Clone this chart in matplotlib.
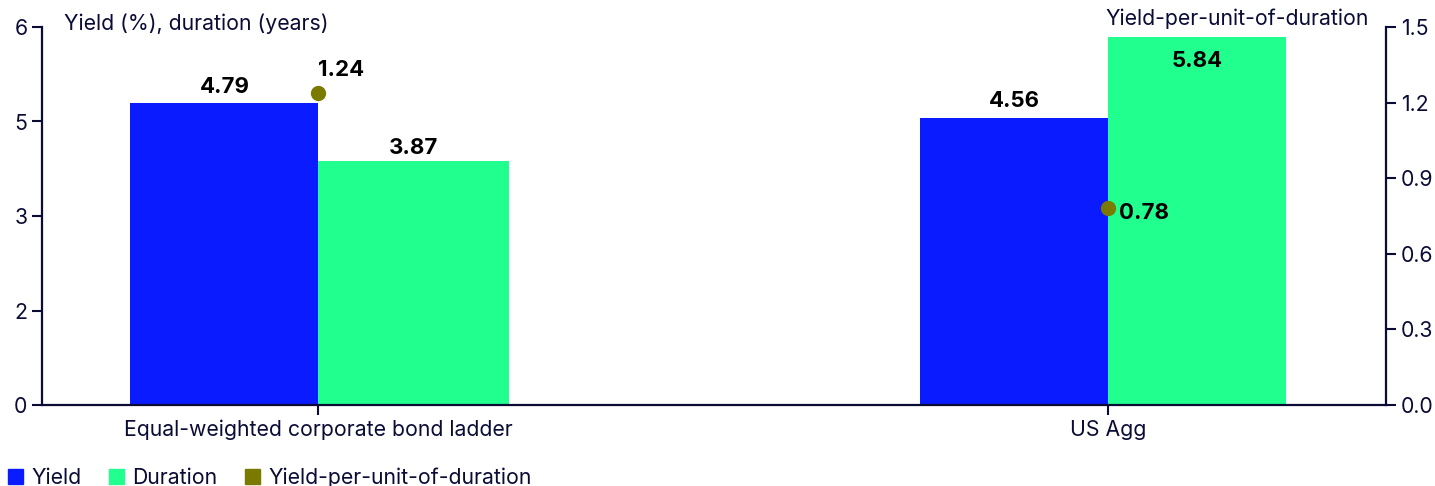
import matplotlib.pyplot as plt
from matplotlib.patches import Patch

categories = ["Equal-weighted corporate bond ladder", "US Agg"]
yield_pct = [4.79, 4.56]
duration_yrs = [3.87, 5.84]
yield_per_dur = [1.24, 0.78]

left_ticks = [0, 1.5, 3, 4.5, 6]
left_tick_labels = ["0", "2", "3", "5", "6"]
right_ticks = [0, 0.3, 0.6, 0.9, 1.2, 1.5]

BLUE = "#0A1BFF"
GREEN = "#21FF8F"
OLIVE = "#7A7A00"
NAVY = "#0B0C36"

plt.rcParams["font.family"] = ["Inter", "DejaVu Sans"]
plt.rcParams["font.size"] = 15.3

fig = plt.figure(figsize=(14.35, 4.86), dpi=100)
ax = fig.add_axes([42 / 1435, 81 / 486, 1344 / 1435, 378 / 486])
ax2 = ax.twinx()

x = list(range(len(categories)))
yield_w = [0.238, 0.238]
dur_w = [0.242, 0.225]

ax.bar(x, yield_pct, width=[-w for w in yield_w], align="edge", color=BLUE, zorder=2)
ax.bar(x, duration_yrs, width=dur_w, align="edge", color=GREEN, zorder=2)

lbl = dict(fontweight="bold", color="black", fontsize=16)
for xi, w, v in zip(x, yield_w, yield_pct):
    ax.text(xi - w / 2, v + 0.1, f"{v:.2f}", ha="center", va="bottom", **lbl)
for xi, w, v in zip(x, dur_w, duration_yrs):
    if v > 5.5:
        ax.text(xi + w / 2, v - 0.22, f"{v:.2f}", ha="center", va="top", **lbl)
    else:
        ax.text(xi + w / 2, v + 0.05, f"{v:.2f}", ha="center", va="bottom", **lbl)

ax2.scatter(x, yield_per_dur, s=100, color=OLIVE, zorder=5)
ax2.annotate(f"{yield_per_dur[0]:.2f}", (x[0], yield_per_dur[0]),
             xytext=(0, 9), textcoords="offset points", ha="left",
             va="bottom", **lbl)
ax2.annotate(f"{yield_per_dur[1]:.2f}", (x[1], yield_per_dur[1]),
             xytext=(8, -3), textcoords="offset points", ha="left",
             va="center", **lbl)

ax.set_xlim(-0.35, 1.352)
ax.set_ylim(0, 6)
ax2.set_ylim(0, 1.5)
ax.set_yticks(left_ticks)
ax.set_yticklabels(left_tick_labels)
ax2.set_yticks(right_ticks)
ax2.set_yticklabels([f"{t:.1f}" for t in right_ticks])
ax.set_xticks(x)
ax.set_xticklabels(categories)

for a in (ax, ax2):
    a.spines["top"].set_visible(False)
    for s in ("left", "right", "bottom"):
        a.spines[s].set_color(NAVY)
        a.spines[s].set_linewidth(1.6)
    a.tick_params(colors=NAVY, labelcolor=NAVY, width=1.5, length=7, labelsize=15.3)
ax.spines["right"].set_visible(False)
ax2.spines["left"].set_visible(False)
ax2.spines["bottom"].set_visible(False)

ax.text(0.016, 1.008, "Yield (%), duration (years)", transform=ax.transAxes,
        ha="left", va="center", color=NAVY)
ax.text(0.987, 1.022, "Yield-per-unit-of-duration", transform=ax.transAxes,
        ha="right", va="center", color=NAVY)

handles = [Patch(color=BLUE), Patch(color=GREEN), Patch(color=OLIVE)]
labels = ["Yield", "Duration", "Yield-per-unit-of-duration"]
fig.legend(handles, labels, loc="lower left", bbox_to_anchor=(-0.002, -0.025),
           ncol=3, frameon=False, handlelength=0.7, handleheight=0.7,
           handletextpad=0.4, columnspacing=1.3, labelcolor=NAVY, fontsize=15.3,
           borderaxespad=0.1)

fig.savefig("out.png", dpi=100)
